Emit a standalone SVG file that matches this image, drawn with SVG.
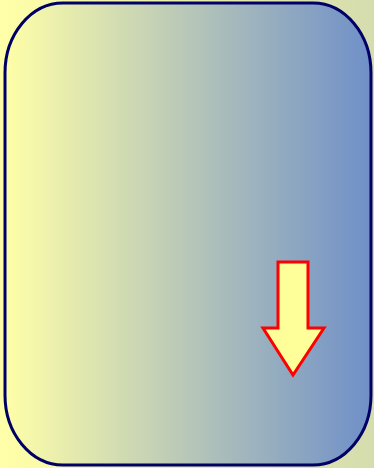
<svg xmlns="http://www.w3.org/2000/svg" width="374" height="468" viewBox="0 0 374 468">
  <defs>
    <linearGradient id="bg" x1="0" y1="0" x2="1" y2="0">
      <stop offset="0" stop-color="#ffffa8"/>
      <stop offset="1" stop-color="#d5dcae"/>
    </linearGradient>
    <linearGradient id="fill" x1="0" y1="0" x2="1" y2="0">
      <stop offset="0" stop-color="#ffffa8"/>
      <stop offset="1" stop-color="#6f8fc8"/>
    </linearGradient>
  </defs>
  <style>
    .box { fill: url(#fill); stroke: #000066; stroke-width: 3; }
    .arrow { fill: #ffff99; stroke: #ff0000; stroke-width: 3; }
  </style>
  <rect x="0" y="0" width="374" height="468" fill="url(#bg)"/>
  <g id="container">
    <rect class="box" x="5" y="3" width="366" height="462" rx="58" ry="70"/>
  </g>
  <g id="down-arrow">
    <polygon class="arrow" points="278,262 308,262 308,328 324,328 293,375 263,328 278,328"/>
  </g>
</svg>
